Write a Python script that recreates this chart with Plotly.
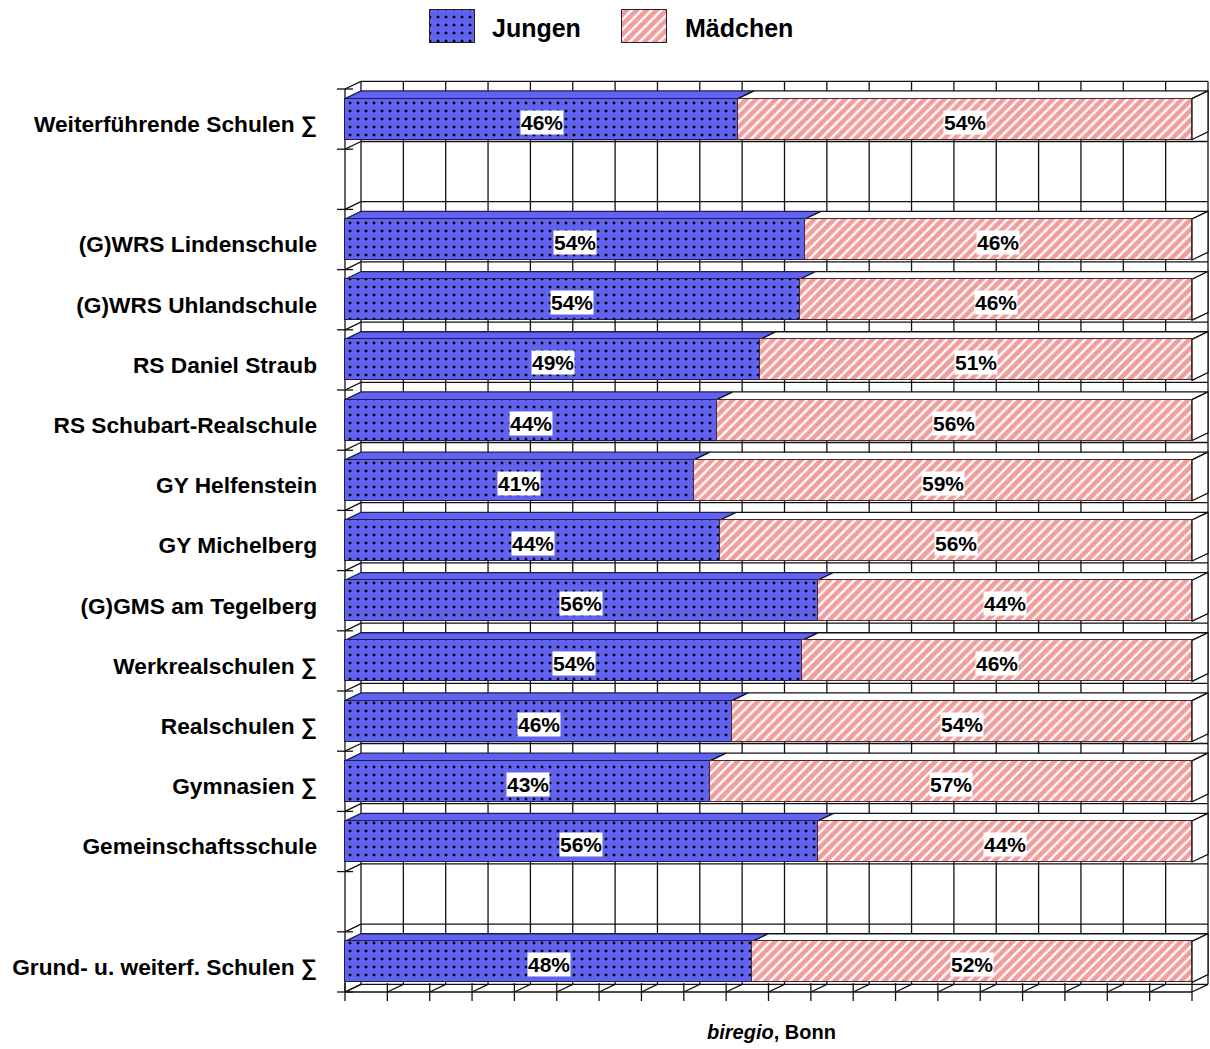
import plotly.graph_objects as go

# ---------------- data ----------------
categories = [
    "Weiterführende Schulen ∑",
    "",
    "(G)WRS Lindenschule",
    "(G)WRS Uhlandschule",
    "RS Daniel Straub",
    "RS Schubart-Realschule",
    "GY Helfenstein",
    "GY Michelberg",
    "(G)GMS am Tegelberg",
    "Werkrealschulen ∑",
    "Realschulen ∑",
    "Gymnasien ∑",
    "Gemeinschaftsschule",
    "",
    "Grund- u. weiterf. Schulen ∑",
]
jungen = [46.4, None, 54.3, 53.7, 49.0, 43.9, 41.2, 44.3, 55.8, 54.0, 45.7, 43.1, 55.8, None, 48.1]
maedchen = [53.6, None, 45.7, 46.3, 51.0, 56.1, 58.8, 55.7, 44.2, 46.0, 54.3, 56.9, 44.2, None, 51.9]
grid_ticks = list(range(0, 101, 5))
series_names = ["Jungen", "Mädchen"]
source_note = "<b><i>biregio</i>, Bonn</b>"

# ---------------- style / geometry ----------------
W, H = 1210, 1049
FRONT_X0, FRONT_X100 = 345, 1192          # px of 0% / 100%
ROW_TOP, ROW_BOTTOM = 89, 992             # px of the front category boundaries
DEPTH_PX_X, DEPTH_PX_Y = 16, 7.7          # 3-D depth in px
ML, MR, MT, MB = 330, 0, 5, 44
PLOT_TOP = 75                             # px top of main plot area
LEG_SW = [(430, 475), (622, 667)]         # legend swatch px extents
LEG_Y = (10, 43)
LEG_TXT_X = [490, 683]

kx = (FRONT_X100 - FRONT_X0) / 100.0
n = len(categories)
ky = (ROW_BOTTOM - ROW_TOP) / n
xr = [(ML - FRONT_X0) / kx, (W - MR - FRONT_X0) / kx]
yr = [(H - MB - ROW_TOP) / ky - 0.5, (PLOT_TOP - ROW_TOP) / ky - 0.5]
paper_h = H - MT - MB
main_top_dom = (H - MB - PLOT_TOP) / paper_h
DX = DEPTH_PX_X / kx
DY = DEPTH_PX_Y / ky
BW = 0.68
BLUE = "#6262F0"
PINK = "#F29C9C"
LINE = "#111111"
FONT = "Liberation Sans, Arial, sans-serif"

blue_marker = dict(color=BLUE, line=dict(color="#1c1c55", width=1.5),
                   pattern=dict(shape=".", fgcolor="#000000", bgcolor=BLUE,
                                size=8, solidity=0.11, fillmode="replace"))
pink_marker = dict(color=PINK, line=dict(color="#4a2a2a", width=1.5),
                   pattern=dict(shape="/", fgcolor="#FFFFFF", bgcolor=PINK,
                                size=7, solidity=0.33, fillmode="replace"))

ypos = list(range(n))
fig = go.Figure()

fig.add_trace(go.Bar(
    name=series_names[0], y=ypos, x=jungen, orientation="h", width=BW,
    marker=blue_marker, showlegend=False,
    hovertemplate="%{x:.0f}%<extra>Jungen</extra>",
))
fig.add_trace(go.Bar(
    name=series_names[1], y=ypos, x=maedchen, orientation="h", width=BW,
    marker=pink_marker, showlegend=False,
    hovertemplate="%{x:.0f}%<extra>Mädchen</extra>",
))

# legend swatches (in a small pixel-scaled axis above the chart)
for (xa, xb), name, mk in zip(LEG_SW, series_names, (blue_marker, pink_marker)):
    m = dict(mk)
    m["line"] = dict(color="#222222", width=1.5)
    fig.add_trace(go.Bar(
        name=name, y=[(LEG_Y[0] + LEG_Y[1]) / 2], x=[xb - xa], base=[xa],
        orientation="h", width=LEG_Y[1] - LEG_Y[0], marker=m,
        xaxis="x2", yaxis="y2", showlegend=False, hoverinfo="skip",
    ))

shapes = []
lw = 1.3
top_b, bot_b = -0.5, n - 0.5
# back wall verticals
for t in grid_ticks:
    shapes.append(dict(type="line", x0=t + DX, x1=t + DX, y0=top_b - DY, y1=bot_b - DY,
                       line=dict(color=LINE, width=lw), layer="below"))
# back wall horizontals, left wall slants, left ticks
for i in range(n + 1):
    b = i - 0.5
    shapes.append(dict(type="line", x0=DX, x1=100 + DX, y0=b - DY, y1=b - DY,
                       line=dict(color=LINE, width=lw), layer="below"))
    shapes.append(dict(type="line", x0=0, x1=DX, y0=b, y1=b - DY,
                       line=dict(color=LINE, width=lw), layer="below"))
    shapes.append(dict(type="line", x0=-8 / kx, x1=8 / kx, y0=b, y1=b,
                       line=dict(color=LINE, width=lw), layer="below"))
# left front axis
shapes.append(dict(type="line", x0=0, x1=0, y0=top_b, y1=bot_b,
                   line=dict(color=LINE, width=lw), layer="below"))
# floor: front axis, slants, crossing ticks
shapes.append(dict(type="line", x0=0, x1=100, y0=bot_b, y1=bot_b,
                   line=dict(color=LINE, width=lw), layer="below"))
for t in grid_ticks:
    shapes.append(dict(type="line", x0=t, x1=t + DX, y0=bot_b, y1=bot_b - DY,
                       line=dict(color=LINE, width=lw), layer="below"))
    shapes.append(dict(type="line", x0=t, x1=t, y0=bot_b - 9 / ky, y1=bot_b + 9 / ky,
                       line=dict(color=LINE, width=lw), layer="below"))


def para(xa, xb, yf):
    return f"M{xa},{yf} L{xb},{yf} L{xb + DX},{yf - DY} L{xa + DX},{yf - DY} Z"


annotations = []
for i, (j, m) in enumerate(zip(jungen, maedchen)):
    if j is None:
        continue
    ytop = i - BW / 2
    ybot = i + BW / 2
    shapes.append(dict(type="path", path=para(0, j, ytop), fillcolor=BLUE,
                       line=dict(color="#1c1c55", width=1.3), layer="below"))
    shapes.append(dict(type="path", path=para(j, j + m, ytop), fillcolor="#FFFFFF",
                       line=dict(color=LINE, width=1.3), layer="below"))
    xe = j + m
    shapes.append(dict(type="path",
                       path=f"M{xe},{ytop} L{xe + DX},{ytop - DY} L{xe + DX},{ybot - DY} L{xe},{ybot} Z",
                       fillcolor="#FFFFFF", line=dict(color=LINE, width=1.3), layer="below"))
    for xc, v in ((j / 2, j), (j + m / 2, m)):
        annotations.append(dict(x=xc, y=i, xref="x", yref="y", text=f"<b>{round(v)}%</b>",
                                showarrow=False, bgcolor="#FFFFFF", borderpad=0, yshift=-3,
                                font=dict(family=FONT, size=21, color="#000000")))

# legend texts
for tx, name in zip(LEG_TXT_X, series_names):
    annotations.append(dict(x=tx, y=(LEG_Y[0] + LEG_Y[1]) / 2 + 1, xref="x2", yref="y2",
                            text=f"<b>{name}</b>", showarrow=False, xanchor="left",
                            yanchor="middle",
                            font=dict(family=FONT, size=25, color="#000000")))

annotations.append(dict(x=(771 - ML) / (W - ML - MR), y=(H - MB - 1032) / paper_h,
                        xref="paper", yref="paper", text=source_note, showarrow=False,
                        xanchor="center", yanchor="middle",
                        font=dict(family=FONT, size=20, color="#000000")))

fig.update_layout(
    width=W, height=H,
    margin=dict(l=ML, r=MR, t=MT, b=MB, pad=0),
    barmode="stack",
    bargap=0,
    paper_bgcolor="#FFFFFF",
    plot_bgcolor="rgba(0,0,0,0)",
    shapes=shapes,
    annotations=annotations,
    showlegend=False,
    xaxis=dict(range=xr, showgrid=False, zeroline=False, showticklabels=False,
               showline=False, ticks="", fixedrange=True),
    yaxis=dict(range=yr, domain=[0, main_top_dom], showgrid=False, zeroline=False,
               showline=False, tickmode="array", tickvals=ypos, ticktext=categories,
               ticks="", ticklabelstandoff=12, ticklabelshift=-5,
               tickfont=dict(family=FONT, size=22.7, color="#000000", weight="bold"),
               fixedrange=True),
    xaxis2=dict(range=[ML, W - MR], domain=[0, 1], anchor="y2", visible=False,
                fixedrange=True),
    yaxis2=dict(range=[PLOT_TOP, MT], domain=[main_top_dom, 1], anchor="x2",
                visible=False, fixedrange=True),
    font=dict(family=FONT),
)

fig.write_html("out.html", config={"displayModeBar": False},
               post_script="document.body.style.margin='0';")
